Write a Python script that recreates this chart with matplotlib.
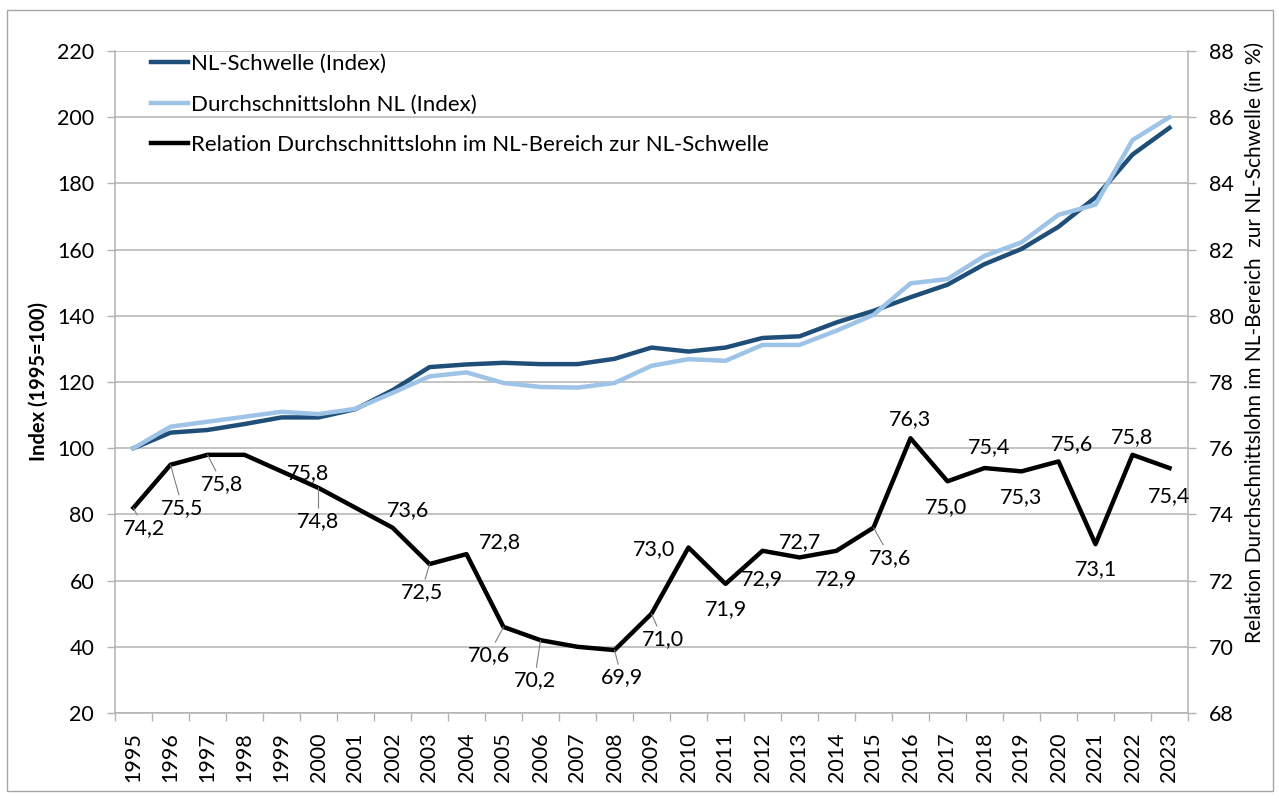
import numpy as np
import matplotlib
matplotlib.use('Agg')
import matplotlib.pyplot as plt
from matplotlib import font_manager
from matplotlib.patches import Rectangle

plt.rcParams['font.family'] = ['Lato', 'DejaVu Sans']

# Data
years = [1995, 1996, 1997, 1998, 1999, 2000, 2001, 2002, 2003, 2004,
         2005, 2006, 2007, 2008, 2009, 2010, 2011, 2012, 2013, 2014,
         2015, 2016, 2017, 2018, 2019, 2020, 2021, 2022, 2023]

nl_schwelle = [100.0, 104.7, 105.5, 107.3, 109.3, 109.3, 111.8, 117.5, 124.5, 125.3,
               125.8, 125.4, 125.4, 127.0, 130.4, 129.2, 130.4, 133.3, 133.8, 138.0,
               141.5, 145.6, 149.4, 155.6, 160.2, 166.9, 175.8, 188.7, 196.8]

lohn_nl = [100.0, 106.5, 108.0, 109.5, 111.0, 110.3, 111.9, 116.7, 121.7, 122.9,
           119.7, 118.5, 118.3, 119.7, 124.9, 126.9, 126.4, 131.2, 131.2, 135.5,
           140.3, 149.8, 151.1, 158.1, 162.2, 170.5, 173.6, 193.1, 200.0]

relation = [74.2, 75.5, 75.8, 75.8, 75.3, 74.8, 74.2, 73.6, 72.5, 72.8,
            70.6, 70.2, 70.0, 69.9, 71.0, 73.0, 71.9, 72.9, 72.7, 72.9,
            73.6, 76.3, 75.0, 75.4, 75.3, 75.6, 73.1, 75.8, 75.4]

# years whose relation value carries a data label
labelled_years = [1995, 1996, 1997, 1998, 2000, 2002, 2003, 2004, 2005, 2006,
                  2008, 2009, 2010, 2011, 2012, 2013, 2014, 2015, 2016, 2017,
                  2018, 2019, 2020, 2021, 2022, 2023]

legend_labels = ['NL-Schwelle (Index)',
                 'Durchschnittslohn NL (Index)',
                 'Relation Durchschnittslohn im NL-Bereich zur NL-Schwelle']

# label placement (pixel offsets, y pointing down) and whether a leader line is drawn
label_pos = {
    1995: (10, 20, True), 1996: (12, 43, True), 1997: (15, 29, True),
    1998: (63, 18, False), 2000: (0, 33, True), 2002: (15, -18, False),
    2003: (-8, 28, True), 2004: (33, -12, False), 2005: (-15, 28, True),
    2006: (-6, 40, True), 2008: (7, 27, True), 2009: (11, 25, True),
    2010: (-35, 2, False), 2011: (0, 25, False), 2012: (0, 28, False),
    2013: (0, -15, False), 2014: (0, 28, False), 2015: (17, 30, True),
    2016: (0, -19, False), 2017: (-2, 26, False), 2018: (5, -21, False),
    2019: (0, 26, False), 2020: (13, -17, False), 2021: (0, 25, False),
    2022: (0, -18, False), 2023: (0, 28, False),
}

DARK_BLUE = '#1f4e79'
LIGHT_BLUE = '#9dc3e6'
GRID = '#b3b3b3'
W, H = 1279, 799
FS = 15.5


def px_box(x0, y0, x1, y1):
    # pixel box (top-left origin) -> figure fraction rect
    return [x0 / W, 1 - y1 / H, (x1 - x0) / W, (y1 - y0) / H]


fig = plt.figure(figsize=(W / 100, H / 100), dpi=100)
fig.patches.append(Rectangle((7 / W, 1 - 791 / H), 1266 / W, 781 / H,
                             transform=fig.transFigure, fill=False,
                             edgecolor='#a6a6a6', linewidth=1.0))

ax = fig.add_axes(px_box(115, 51, 1188, 713))
ax2 = ax.twinx()

x = np.arange(len(years))
l1, = ax.plot(x, nl_schwelle, color=DARK_BLUE, lw=3.2, solid_joinstyle='round', zorder=3)
l2, = ax.plot(x, lohn_nl, color=LIGHT_BLUE, lw=3.2, solid_joinstyle='round', zorder=4)
l3, = ax2.plot(x, relation, color='black', lw=3.2, solid_joinstyle='round', zorder=5)

# left axis
ax.set_xlim(-0.5, len(years) - 0.5)
ax.set_ylim(20, 220)
ax.set_yticks(np.arange(20, 221, 20))
ax.grid(axis='y', color=GRID, lw=1.1)
ax.set_axisbelow(True)
ax.tick_params(axis='y', direction='out', length=6, width=1, color=GRID,
               labelsize=FS, pad=9)
for s in ['top', 'right']:
    ax.spines[s].set_visible(False)
for s in ['left', 'bottom']:
    ax.spines[s].set_color(GRID)
    ax.spines[s].set_linewidth(1.1)

# categories: labels at centres, tick marks at boundaries
ax.set_xticks(x)
ax.set_xticklabels([str(y) for y in years], rotation=90, fontsize=FS)
ax.tick_params(axis='x', which='major', length=0, pad=14)
ax.set_xticks(np.arange(-0.5, len(years), 1), minor=True)
ax.tick_params(axis='x', which='minor', direction='out', length=6, width=1, color=GRID)

# right axis
ax2.set_ylim(68, 88)
ax2.set_yticks(np.arange(68, 89, 2))
ax2.tick_params(axis='y', direction='out', length=6, width=1, color=GRID,
                labelsize=FS, pad=9)
for s in ['top', 'left', 'bottom']:
    ax2.spines[s].set_visible(False)
ax2.spines['right'].set_color(GRID)
ax2.spines['right'].set_linewidth(1.1)

# data labels on the relation series
for yr in labelled_years:
    i = years.index(yr)
    dx, dy, leader = label_pos[yr]
    txt = f'{relation[i]:.1f}'.replace('.', ',')
    arrow = dict(arrowstyle='-', color='#7f7f7f', lw=0.8, shrinkA=0, shrinkB=0) if leader else None
    ax2.annotate(txt, xy=(i, relation[i]), xytext=(dx, -dy), textcoords='offset pixels',
                 ha='center', va='center', fontsize=FS, arrowprops=arrow, zorder=6)

# legend
ax.legend([l1, l2, l3], legend_labels, loc='upper left',
          bbox_to_anchor=(151 / W, 1 - 54 / H), bbox_transform=fig.transFigure,
          frameon=False, fontsize=16, handlelength=1.65, handletextpad=0.15,
          labelspacing=0.92, borderpad=0, borderaxespad=0)

# axis titles
fig.text(39 / W, 1 - 382 / H, 'Index (1995=100)', rotation=90, ha='center',
         va='center', fontsize=14.5, fontweight='bold')

narrow = [f.name for f in font_manager.fontManager.ttflist if f.name == 'Liberation Sans Narrow']
right_family = ['Liberation Sans Narrow'] if narrow else ['Lato']
fig.text(1255 / W, 1 - 342 / H,
         'Relation Durchschnittslohn im NL-Bereich  zur NL-Schwelle (in %)',
         rotation=90, ha='center', va='center', fontsize=15, family=right_family)

fig.savefig('out.png', dpi=100)
